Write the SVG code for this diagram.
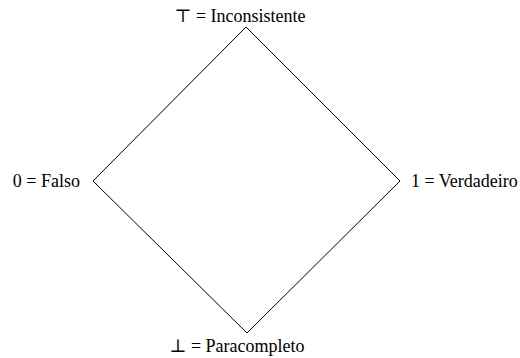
<svg xmlns="http://www.w3.org/2000/svg" width="520" height="358" viewBox="0 0 520 358">
<style>
text{font-family:'Liberation Serif','DejaVu Serif','Noto Serif',Tinos,FreeSerif,serif;font-size:18px;fill:#000}
.edge{stroke:#000;stroke-width:1;fill:none}
</style>
<rect width="520" height="358" fill="#fff"/>
<g id="connectors">
<path class="edge" d="M246,27 L93,181"/>
<path class="edge" d="M246,27 L400,181"/>
<path class="edge" d="M93,181 L247,333"/>
<path class="edge" d="M400,181 L247,333"/>
</g>
<g id="top"><text x="240" y="22" text-anchor="middle">⊤ = Inconsistente</text></g>
<g id="left"><text x="80" y="187" text-anchor="end">0 = Falso</text></g>
<g id="right"><text x="411" y="187">1 = Verdadeiro</text></g>
<g id="bottom"><text x="237" y="352" text-anchor="middle">⊥ = Paracompleto</text></g>
</svg>
